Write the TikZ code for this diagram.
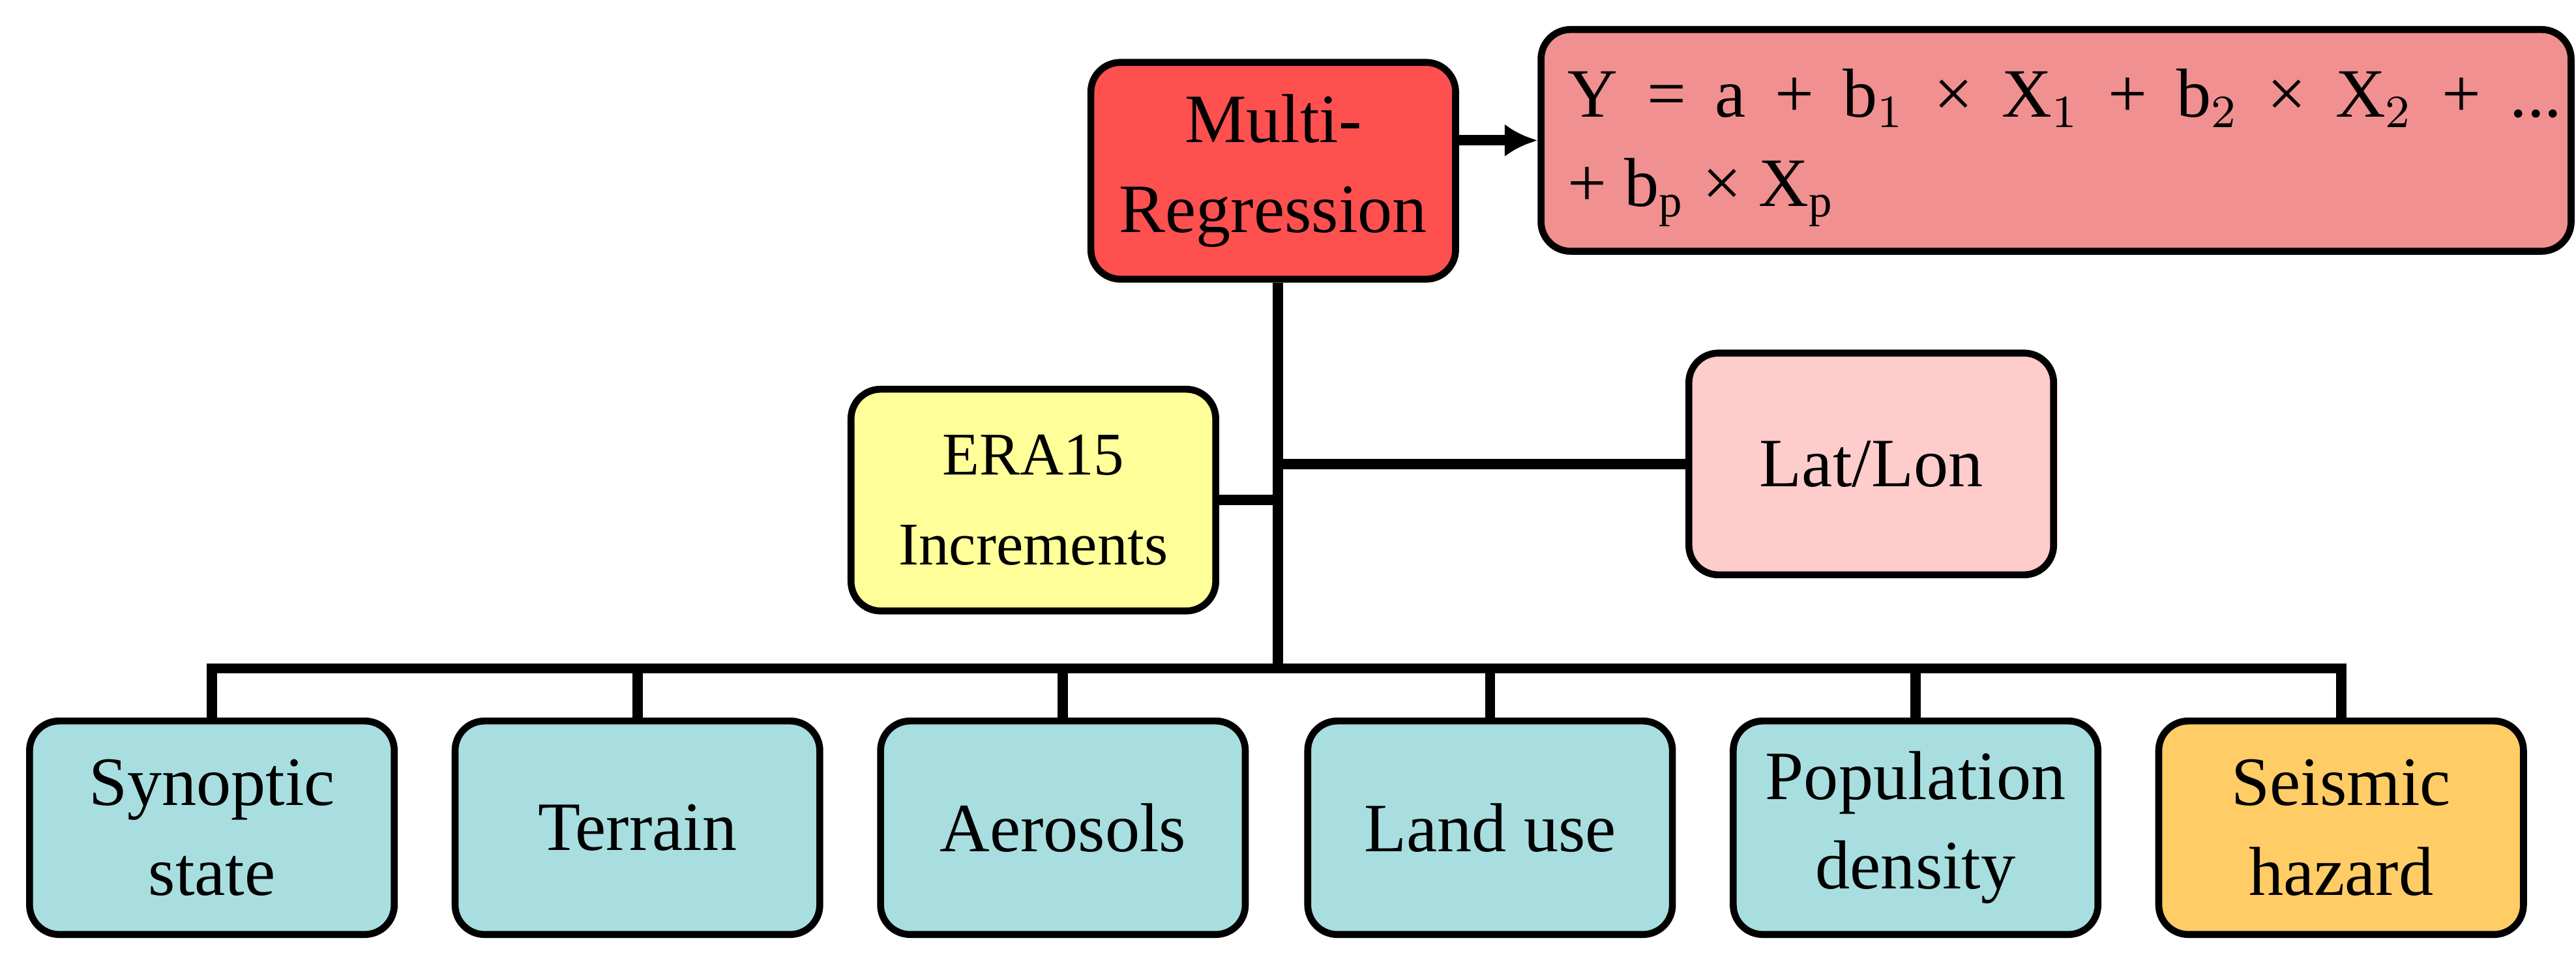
\documentclass[tikz,border=0pt]{standalone}
\usepackage{fontspec}
\setmainfont{Liberation Serif}
\usetikzlibrary{arrows.meta}
\definecolor{cy}{HTML}{A8DEE0}
\definecolor{og}{HTML}{FFCC66}
\definecolor{rd}{HTML}{FF5050}
\definecolor{pk}{HTML}{F09090}
\definecolor{lp}{HTML}{FFCCCC}
\definecolor{yl}{HTML}{FFFF99}
\begin{document}
\begin{tikzpicture}[x=1cm,y=1cm,
 box/.style={draw=black,line width=1.2pt,rounded corners=0.18cm,align=center,minimum width=2.22cm,minimum height=1.3cm,inner sep=0pt,font=\fontsize{12}{15.5}\selectfont},
 ln/.style={line width=1.8pt}]
\useasboundingbox (0,0) rectangle (15.68,-5.96);
\node[box,fill=rd,minimum height=1.32cm] (mr) at (7.75,-1.04) {Multi-\\Regression};
\node[box,fill=pk,minimum width=6.27cm,minimum height=1.35cm] (fm) at (12.515,-0.855) {};
\node[anchor=west,font=\fontsize{12}{15.5}\selectfont,align=left] (ft) at (9.42,-0.9)
 {\makebox[6.05cm][s]{Y = a + b$_1$ × X$_1$ + b$_2$ × X$_2$ + ...}\\+ b$_\mathrm{p}$ × X$_\mathrm{p}$};
\node[box,fill=yl,minimum height=1.35cm,font=\fontsize{10.5}{15.5}\selectfont] (era) at (6.29,-3.045) {ERA15\\Increments};
\node[box,fill=lp,minimum height=1.35cm] (ll) at (11.39,-2.825) {Lat/Lon};
\node[box,fill=cy] (b1) at (1.29,-5.04) {Synoptic\\state};
\node[box,fill=cy] (b2) at (3.88,-5.04) {Terrain};
\node[box,fill=cy] (b3) at (6.47,-5.04) {Aerosols};
\node[box,fill=cy] (b4) at (9.07,-5.04) {Land use};
\node[box,fill=cy] (b5) at (11.66,-5.04) {Population\\density};
\node[box,fill=og] (b6) at (14.25,-5.04) {Seismic\\hazard};
\coordinate (t) at (7.78,-4.07);
\draw[ln] (mr.south -| t) -- (t);
\draw[ln] (era.east) -- (era.east -| t);
\draw[ln] (ll.west) -- (ll.west -| t);
\draw[ln] (b1.north) |- (t) -| (b6.north);
\foreach \b in {b2,b3,b4,b5} \draw[ln] (\b.north) -- (\b.north |- t);
\draw[ln,-{Latex[length=0.2cm,width=0.2cm]}] (mr.east |- fm.west) coordinate (a0) (a0) -- (fm.west);
\end{tikzpicture}
\end{document}
